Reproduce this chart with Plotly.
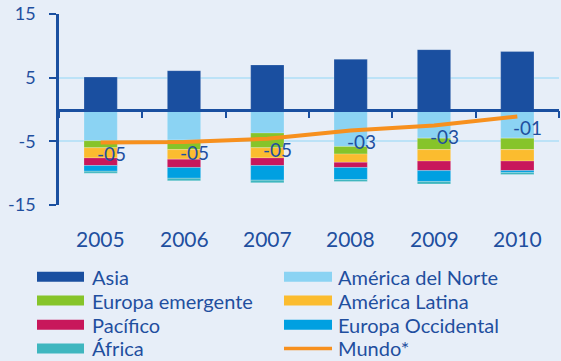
import plotly.graph_objects as go

# Years on the category axis
years = ["2005", "2006", "2007", "2008", "2009", "2010"]

# Regional contributions (stacked bars)
asia = [5.1, 6.1, 7.0, 7.9, 9.4, 9.1]
america_norte = [-4.9, -4.8, -3.7, -5.8, -4.5, -4.5]
europa_emergente = [-1.1, -1.5, -2.3, -1.2, -1.8, -1.8]
america_latina = [-1.6, -1.5, -1.6, -1.3, -1.8, -1.8]
pacifico = [-1.2, -1.3, -1.2, -0.8, -1.5, -1.5]
europa_occidental = [-0.9, -1.7, -2.3, -1.9, -1.7, -0.3]
africa = [-0.3, -0.4, -0.4, -0.3, -0.4, -0.3]

# World total (line)
mundo = [-5.2, -5.1, -4.6, -3.3, -2.5, -1.1]

# Y axis ticks
y_ticks = [15, 5, -5, -15]

series = [
    ("Asia", asia, "#1a4fa0"),
    ("América del Norte", america_norte, "#8bd3f3"),
    ("Europa emergente", europa_emergente, "#86c42a"),
    ("América Latina", america_latina, "#fbbc2f"),
    ("Pacífico", pacifico, "#c8175b"),
    ("Europa Occidental", europa_occidental, "#00a0e1"),
    ("África", africa, "#3fb6bf"),
]
mundo_name, mundo_color = "Mundo*", "#f7901e"

TEXT = "#1f4f9f"
AXIS = "#1a4fa0"
BG = "#e7eef8"
GRID = "#bce2f7"
FONT = "Lato"

W, H = 561, 361
L, R, T, B = 59, 2, 12, 156
PW, PH = W - L - R, H - T - B


def px_x(px):
    return (px - L) / PW


def px_y(py):
    return (H - B - py) / PH


def fmt_label(v):
    n = int(abs(v) + 0.5)
    return f"-{n:02d}" if v < 0 else f"{n:02d}"


fig = go.Figure()

for name, vals, color in series:
    fig.add_trace(go.Bar(
        x=years, y=vals, name=name, width=0.4,
        marker=dict(color=color, line=dict(width=0.6, color="rgba(255,255,255,0.35)")),
        showlegend=False,
    ))

fig.add_trace(go.Scatter(
    x=years, y=mundo, name=mundo_name, mode="lines",
    line=dict(color=mundo_color, width=4),
    showlegend=False,
))

annotations = []
# Value labels next to the world line (category index positions)
for i, v in enumerate(mundo):
    annotations.append(dict(
        x=i, y=v, xref="x", yref="y", text=fmt_label(v),
        showarrow=False, xanchor="left", yanchor="middle",
        xshift=-6, yshift=-11,
        font=dict(family=FONT, size=19, color=TEXT),
    ))

# Year labels under the plot
for i, yr in enumerate(years):
    annotations.append(dict(
        x=i, y=px_y(239), xref="x", yref="paper", text=yr,
        showarrow=False, xanchor="center", yanchor="middle",
        font=dict(family=FONT, size=21, color=TEXT),
    ))

# Two-column legend drawn below the chart
shapes = []
legend_items = [(n, c, "bar") for n, _, c in series] + [(mundo_name, mundo_color, "line")]
col_sym = [(37, 84), (284, 332)]
col_txt = [90, 336]
row_y = [277.5, 301.5, 326, 350]
for i, (name, color, kind) in enumerate(legend_items):
    r, c = divmod(i, 2)
    x0, x1 = col_sym[c]
    yc = row_y[r]
    if kind == "bar":
        shapes.append(dict(
            type="rect", xref="paper", yref="paper",
            x0=px_x(x0), x1=px_x(x1), y0=px_y(yc + 5), y1=px_y(yc - 5),
            fillcolor=color, line=dict(width=0),
        ))
    else:
        shapes.append(dict(
            type="line", xref="paper", yref="paper",
            x0=px_x(x0), x1=px_x(x1), y0=px_y(yc), y1=px_y(yc),
            line=dict(color=color, width=3.5),
        ))
    annotations.append(dict(
        x=px_x(col_txt[c]), y=px_y(yc), xref="paper", yref="paper",
        text=name, showarrow=False, xanchor="left", yanchor="middle",
        font=dict(family=FONT, size=20, color=TEXT),
    ))

fig.update_layout(
    width=W, height=H,
    margin=dict(l=L, r=R, t=T, b=B, pad=0),
    paper_bgcolor=BG, plot_bgcolor=BG,
    barmode="relative", bargap=0.6,
    showlegend=False,
    font=dict(family=FONT, color=TEXT),
    xaxis=dict(
        type="category", range=[-0.5, 5.5],
        anchor="free", position=0.5,
        showline=True, linecolor=AXIS, linewidth=2.5,
        ticks="outside", tickson="boundaries", ticklen=7, tickwidth=2, tickcolor=AXIS,
        showticklabels=False, showgrid=False, zeroline=False,
    ),
    yaxis=dict(
        range=[-15, 15],
        tickvals=y_ticks, ticktext=[str(v) for v in y_ticks],
        showline=True, linecolor=AXIS, linewidth=2.5,
        ticks="outside", ticklen=7, tickwidth=2, tickcolor=AXIS,
        showgrid=True, gridcolor=GRID, gridwidth=2,
        zeroline=False,
        ticklabelstandoff=10,
        tickfont=dict(family=FONT, size=18, color=TEXT),
    ),
    annotations=annotations,
    shapes=shapes,
)

fig.write_html("out.html")
